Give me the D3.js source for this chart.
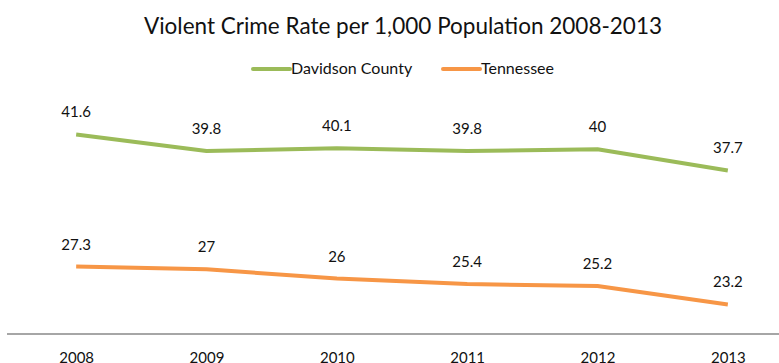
<!DOCTYPE html>
<html>
<head>
<meta charset="utf-8">
<script src="https://cdn.jsdelivr.net/npm/d3@7/dist/d3.min.js"></script>
<style>
  html, body { margin: 0; padding: 0; background: #fff; }
  svg { display: block; font-family: Lato, "Open Sans", sans-serif; }
</style>
</head>
<body>
<svg id="chart" width="779" height="363"></svg>
<script>
// Violent crime rate per 1,000 population, 2008-2013
const years = ["2008", "2009", "2010", "2011", "2012", "2013"];
const davidson = [41.6, 39.8, 40.1, 39.8, 40, 37.7];
const tennessee = [27.3, 27, 26, 25.4, 25.2, 23.2];
const seriesNames = ["Davidson County", "Tennessee"];
const seriesColors = ["#9BBB59", "#F79646"];

const svg = d3.select("#chart");
const W = 779, H = 363;
const plot = { left: 11, right: 793, top: 103, bottom: 334 };

const x = d3.scalePoint().domain(years).range([plot.left, plot.right]).padding(0.5);
const y = d3.scaleLinear().domain([20, 45]).range([plot.bottom, plot.top]);

// Title
svg.append("text")
  .attr("x", 403).attr("y", 34)
  .attr("text-anchor", "middle")
  .attr("font-size", 22.5)
  .attr("fill", "#111")
  .text("Violent Crime Rate per 1,000 Population 2008-2013");

// Legend
const legendItems = [
  { name: seriesNames[0], color: seriesColors[0], x: 253 },
  { name: seriesNames[1], color: seriesColors[1], x: 443 }
];
const lg = svg.append("g");
legendItems.forEach(it => {
  lg.append("line")
    .attr("x1", it.x).attr("x2", it.x + 37)
    .attr("y1", 69).attr("y2", 69)
    .attr("stroke", it.color).attr("stroke-width", 4)
    .attr("stroke-linecap", "round");
  lg.append("text")
    .attr("x", it.x + 38).attr("y", 74)
    .attr("font-size", 16)
    .attr("fill", "#111")
    .text(it.name);
});

// X axis (baseline only, no ticks)
const xAxis = d3.axisBottom(x).tickSize(0).tickPadding(18);
const ax = svg.append("g")
  .attr("transform", `translate(0,${plot.bottom})`)
  .call(xAxis);
ax.select(".domain").attr("d", `M7,0H${W}`).attr("stroke", "#A6A6A6").attr("stroke-width", 2);
ax.selectAll("text")
  .attr("font-family", "Lato, 'Open Sans', sans-serif")
  .attr("font-size", 15)
  .attr("fill", "#111");

// Lines and data labels
const line = d3.line()
  .x((d, i) => x(years[i]))
  .y(d => y(d));

[davidson, tennessee].forEach((vals, s) => {
  svg.append("path")
    .datum(vals)
    .attr("fill", "none")
    .attr("stroke", seriesColors[s])
    .attr("stroke-width", 4)
    .attr("stroke-linejoin", "round")
    .attr("d", line);

  svg.append("g").selectAll("text")
    .data(vals)
    .join("text")
    .attr("x", (d, i) => x(years[i]))
    .attr("y", d => y(d) - 17)
    .attr("text-anchor", "middle")
    .attr("font-size", 15)
    .attr("fill", "#111")
    .text(d => d);
});
</script>
</body>
</html>
